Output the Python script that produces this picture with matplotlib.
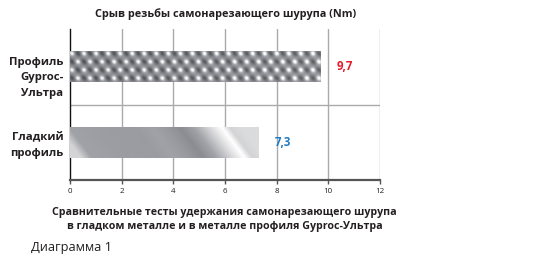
import numpy as np
import matplotlib
matplotlib.use("Agg")
import matplotlib.pyplot as plt
from matplotlib.colors import LinearSegmentedColormap
from matplotlib.transforms import ScaledTranslation

plt.rcParams['font.family'] = ['Open Sans', 'DejaVu Sans']

# --- data ---
categories = ["Профиль\nGyproc-\nУльтра", "Гладкий\nпрофиль"]
values = [9.7, 7.3]
value_labels = ["9,7", "7,3"]
label_colors = ["#e8192c", "#1f7bc4"]
xticks = [0, 2, 4, 6, 8, 10, 12]

title = "Срыв резьбы самонарезающего шурупа (Nm)"
xlabel = "Сравнительные тесты удержания самонарезающего шурупа\nв гладком металле и в металле профиля Gyproc-Ультра"
caption = "Диаграмма 1"

TEXT = "#231f20"

fig = plt.figure(figsize=(5.44, 2.76), dpi=100)
ax = fig.add_axes([70.3 / 544, 1 - 180 / 276, 309.4 / 544, 151 / 276])

ypos = np.arange(len(categories))
bars = ax.barh(ypos, values, height=0.41, color="none", edgecolor="none", zorder=3)


def knurl_texture(w, h, scale=2):
    """Knurled-metal pattern: bright bumps on a staggered lattice with dark diagonal pits."""
    nx, ny = int(w * scale), int(h * scale)
    px = (np.arange(nx) + 0.5) / scale
    py = (np.arange(ny) + 0.5) / scale
    X, Y = np.meshgrid(px, py)
    ax_, bx_, by_ = 12.0, 6.0, 8.2

    def lattice_blob(x, y, sx, sy, ang):
        v = y / by_
        u = (x - bx_ * v) / ax_
        fu = u - np.round(u)
        fv = v - np.round(v)
        dx = fu * ax_ + fv * bx_
        dy = fv * by_
        c, s = np.cos(ang), np.sin(ang)
        r1 = dx * c + dy * s
        r2 = -dx * s + dy * c
        return np.exp(-(r1 ** 2) / (2 * sx ** 2) - (r2 ** 2) / (2 * sy ** 2))

    bright = lattice_blob(X - 2.0, Y - 2.5, 2.0, 1.7, 0.0)
    dark = lattice_blob(X - 8.0, Y - 2.5, 3.0, 1.8, 0.6)
    img = 0.54 + 0.5 * bright - 0.38 * dark
    # lighter sheen toward the right end
    img += 0.07 * (X / w)
    return np.clip(img, 0, 1)


def brushed_texture(w, h, scale=2):
    """Polished metal with slanted light and dark bands."""
    nx, ny = int(w * scale), int(h * scale)
    px = (np.arange(nx) + 0.5) / scale
    py = (np.arange(ny) + 0.5) / scale
    X, Y = np.meshgrid(px, py)
    # slanted coordinate in bar units (bands lean down to the right)
    s = (X - 0.75 * (Y - h / 2)) / w * 7.3
    stops = [-1.0, 0.0, 0.4, 1.5, 3.0, 3.6, 4.2, 4.7, 5.2, 5.9, 6.3, 6.6, 7.0, 8.5]
    vals = [0.86, 0.84, 0.66, 0.63, 0.62, 0.66, 0.60, 0.52, 0.66, 0.88, 1.0, 0.84, 0.87, 0.87]
    img = np.interp(s, stops, vals)
    return np.clip(img, 0, 1)


metal = LinearSegmentedColormap.from_list(
    "metal", ["#2a2d31", "#6d7075", "#a2a3a8", "#ffffff"])

px_per_unit = 309.4 / 12
bar_px_h = 31
textures = [knurl_texture, brushed_texture]
for bar, tex in zip(bars, textures):
    x0, y0 = bar.get_x(), bar.get_y()
    bw, bh = bar.get_width(), bar.get_height()
    img = tex(bw * px_per_unit, bar_px_h)
    im = ax.imshow(img, cmap=metal, vmin=0, vmax=1, aspect="auto",
                   extent=[x0, x0 + bw, y0 + bh, y0], origin="upper",
                   interpolation="bilinear", zorder=3)
    im.set_clip_path(bar)

for bar, lab, col in zip(bars, value_labels, label_colors):
    ax.text(bar.get_width() + 0.62, bar.get_y() + bar.get_height() / 2, lab,
            color=col, fontsize=8.3, fontweight="bold", va="center", ha="left")

ax.set_xlim(0, 12)
ax.set_ylim(1.5, -0.5)
ax.set_xticks(xticks)
ax.set_xticklabels([str(t) for t in xticks], fontsize=5.8, color=TEXT)
ax.set_yticks(ypos)
ax.set_yticklabels(categories, fontsize=8.2, fontweight="bold", color=TEXT,
                   linespacing=1.55)
ax.tick_params(axis="y", length=0, pad=5)
ax.tick_params(axis="x", length=3, width=1, color="#555555", pad=2.5)
# the three-line label sits a little lower than its bar
first = ax.get_yticklabels()[0]
first.set_transform(first.get_transform() +
                    ScaledTranslation(0, -0.075, fig.dpi_scale_trans))

for x in xticks[1:]:
    ax.axvline(x, color="#aaaaaa", lw=1, zorder=1)
ax.axhline(0.5, color="#aaaaaa", lw=1, zorder=1)

for side in ("top", "right"):
    ax.spines[side].set_visible(False)
ax.spines["left"].set_color("#111111")
ax.spines["left"].set_linewidth(1)
ax.spines["bottom"].set_color("#555555")
ax.spines["bottom"].set_linewidth(1.6)

fig.text(226 / 544, 1 - 14 / 276, title, ha="center", va="center",
         fontsize=7.8, fontweight="bold", color=TEXT)
fig.text(224.5 / 544, 1 - 219.5 / 276, xlabel, ha="center", va="center",
         fontsize=7.7, fontweight="bold", color=TEXT, linespacing=1.42)
fig.text(31 / 544, 1 - 248 / 276, caption, ha="left", va="center",
         fontsize=9.2, color=TEXT)

fig.savefig("out.png", dpi=100)
